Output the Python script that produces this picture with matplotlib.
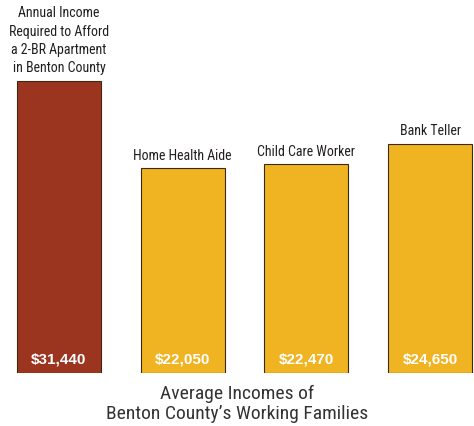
import matplotlib.pyplot as plt

plt.rcParams["font.family"] = ["Roboto Condensed", "DejaVu Sans"]

labels = [
    "Annual Income\nRequired to Afford\na 2-BR Apartment\nin Benton County",
    "Home Health Aide",
    "Child Care Worker",
    "Bank Teller",
]
incomes = [31440, 22050, 22470, 24650]
colors = ["#9b3520", "#f0b321", "#f0b321", "#f0b321"]

fig = plt.figure(figsize=(4.74, 4.26), dpi=100)
ax = fig.add_axes([0, 53 / 426, 1, 373 / 426])
x = range(len(incomes))
ax.bar(x, incomes, width=0.68, color=colors, edgecolor="#3a2a10", linewidth=0.8)
ax.set_xlim(-0.477, 3.355)
ax.set_ylim(0, 40160)
ax.axis("off")

for i, (lab, v) in enumerate(zip(labels, incomes)):
    ax.text(i, 700, f"${v:,}", ha="center", va="bottom", color="white",
            fontsize=11, fontweight="bold", family="Liberation Sans")
    ax.annotate(lab, (i, v), xytext=(0, 4), textcoords="offset points",
                ha="center", va="bottom", fontsize=10, color="#231f20",
                linespacing=1.4)

fig.text(0.5, 22 / 426, "Average Incomes of\nBenton County\u2019s Working Families",
         ha="center", va="center", fontsize=14, color="#333333", linespacing=1.15)

fig.savefig("out.png", dpi=100)
